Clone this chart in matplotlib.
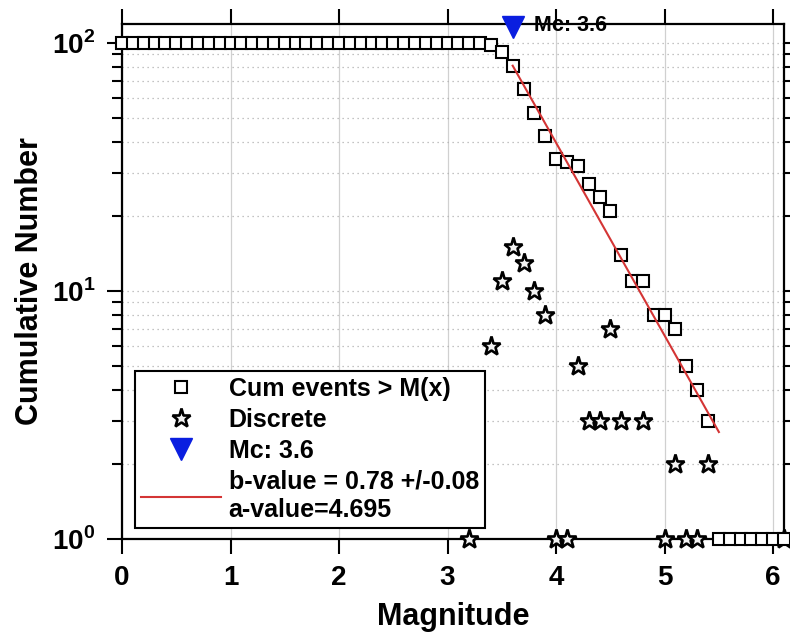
import numpy as np
import matplotlib
matplotlib.use("Agg")
import matplotlib.pyplot as plt
from matplotlib.ticker import FuncFormatter, LogLocator, NullFormatter

plt.rcParams['font.family'] = ['Liberation Sans', 'DejaVu Sans']
plt.rcParams['font.weight'] = 'bold'
plt.rcParams['mathtext.fontset'] = 'custom'
plt.rcParams['mathtext.rm'] = 'Liberation Sans:bold'
plt.rcParams['mathtext.bf'] = 'Liberation Sans:bold'

# cumulative number of events >= magnitude, bins of 0.1
cum_mag = [round(0.1 * i, 1) for i in range(62)]
cum_n = [100] * 34 + [98, 92, 81, 65, 52, 42, 34, 33, 32, 27, 24, 21, 14, 11, 11,
                      8, 8, 7, 5, 4, 3, 1, 1, 1, 1, 1, 1, 1]

# discrete (non-cumulative) counts, only the non-zero bins
disc_mag = [3.2, 3.4, 3.5, 3.6, 3.7, 3.8, 3.9, 4.0, 4.1, 4.2, 4.3, 4.4, 4.5,
            4.6, 4.8, 5.0, 5.1, 5.2, 5.3, 5.4, 6.1]
disc_n = [1, 6, 11, 15, 13, 10, 8, 1, 1, 5, 3, 3, 7, 3, 3, 1, 2, 1, 1, 2, 1]

# Gutenberg-Richter fit line (end points)
fit_mag = [3.6, 5.5]
fit_n = [81, 2.7]

mc = 3.6
mc_n = 116
b_txt = "b-value = 0.78 +/-0.08\na-value=4.695"

fig = plt.figure(figsize=(7.9, 6.39), dpi=100)
ax = fig.add_axes([122 / 790, 100 / 639, 662 / 790, 515 / 639])

ax.semilogy(disc_mag, disc_n, '*', ms=14, mfc='#f4f4f4', mec='black', mew=1.9,
            label='Discrete', clip_on=False, zorder=3)
ax.semilogy(cum_mag, cum_n, 's', ms=8.3, mfc='white', mec='black', mew=1.5,
            label='Cum events > M(x)', clip_on=False, zorder=4)
ax.semilogy([mc], [mc_n], 'v', ms=16, color='#0a1ee0', label='Mc: 3.6',
            clip_on=False, zorder=6)
ax.semilogy(fit_mag, fit_n, '-', color='#d43535', lw=1.5, label=b_txt, zorder=5)

ax.text(3.8, 118, 'Mc: 3.6', fontsize=15.5, fontweight='bold', va='center',
        ha='left', clip_on=False, zorder=7)

ax.set_xlim(0, 6.1)
ax.set_ylim(1, 119.3)
ax.set_xticks(range(7))
ax.yaxis.set_major_locator(LogLocator(base=10, numticks=5))
ax.yaxis.set_minor_locator(LogLocator(base=10, subs=np.arange(2, 10), numticks=20))
ax.yaxis.set_minor_formatter(NullFormatter())
ax.yaxis.set_major_formatter(FuncFormatter(lambda v, p: r'$10^{%d}$' % round(np.log10(v))))

ax.tick_params(which='both', direction='out', top=True, right=True, width=1.5,
               labelsize=20)
ax.tick_params(which='major', length=11, pad=8)
ax.tick_params(which='minor', length=7)
for s in ax.spines.values():
    s.set_linewidth(1.6)

ax.grid(True, axis='x', which='major', color='#d0d0d0', ls='-', lw=0.9)
ax.grid(True, axis='y', which='both', color='#b0b0b0', ls=(0, (1, 3)), lw=0.9)
ax.set_axisbelow(True)

ax.set_xlabel('Magnitude', fontsize=22, fontweight='bold', labelpad=8)
ax.set_ylabel('Cumulative Number', fontsize=22, fontweight='bold', labelpad=5)

handles, labels = ax.get_legend_handles_labels()
order = [1, 0, 2, 3]
leg = ax.legend([handles[i] for i in order], [labels[i] for i in order],
                loc='lower left', bbox_to_anchor=(0.0196, 0.0214), fontsize=18,
                fancybox=False, framealpha=1, edgecolor='black',
                handlelength=3.2, handletextpad=0.3, borderpad=0.25,
                labelspacing=0.28, borderaxespad=0)
leg.get_frame().set_linewidth(1.5)
leg.set_zorder(10)

fig.savefig('out.png', dpi=100)
